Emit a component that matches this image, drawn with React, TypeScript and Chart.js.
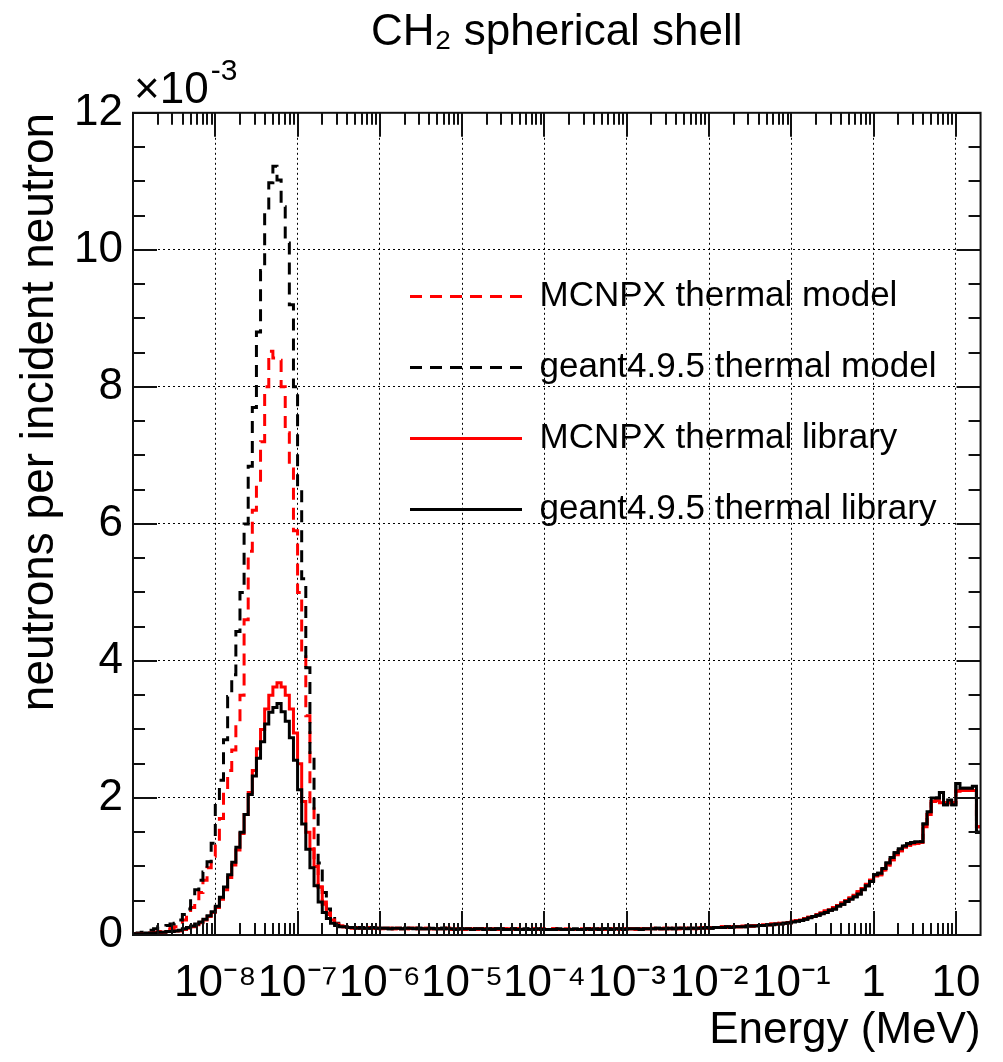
import React, { useEffect, useRef } from "react";
import { Chart, registerables } from "chart.js";

Chart.register(...registerables);

// ---- binning (log-uniform, 20 bins per decade, 1e-9 .. 10^1.3 MeV) ----
const BIN_LOG_MIN = -9;
const BIN_LOG_WIDTH = 0.05;
const X_MIN = 1e-9;
const X_MAX = Math.pow(10, 1.3);

// ---- axes ----
const X_TICKS = [1e-8, 1e-7, 1e-6, 1e-5, 1e-4, 1e-3, 1e-2, 1e-1, 1, 10];
const X_TICK_LABELS = ["10⁻⁸", "10⁻⁷", "10⁻⁶", "10⁻⁵", "10⁻⁴", "10⁻³", "10⁻²", "10⁻¹", "1", "10"];
const Y_TICKS = [0, 2, 4, 6, 8, 10, 12];
const Y_MIN = 0;
const Y_MAX = 12;

const TITLE = "CH₂ spherical shell";
const X_TITLE = "Energy (MeV)";
const Y_TITLE = "neutrons per incident neutron";
const Y_MULTIPLIER = ["×10", "-3"];

const SERIES_LABELS = [
  "MCNPX thermal model",
  "geant4.9.5 thermal model",
  "MCNPX thermal library",
  "geant4.9.5 thermal library",
];

// ---- values (units of 1e-3 neutrons per incident neutron) ----
// thermal region: bins 0..50
const mcnpxModelThermal = [
  0.01, 0.02, 0.02, 0.03, 0.03, 0.04, 0.05, 0.06, 0.08, 0.10,
  0.12, 0.16, 0.22, 0.30, 0.40, 0.50, 0.62, 0.80, 0.98, 1.15,
  1.35, 1.70, 2.10, 2.40, 2.70, 3.10, 3.50, 4.60, 5.60, 6.20,
  6.60, 7.20, 8.00, 8.52, 8.42, 8.39, 8.00, 7.33, 6.80, 5.90,
  5.00, 4.10, 3.20, 1.90, 1.10, 0.70, 0.45, 0.30, 0.20, 0.15,
  0.13,
];
const g4ModelThermal = [
  0.02, 0.03, 0.04, 0.05, 0.07, 0.09, 0.12, 0.12, 0.14, 0.16,
  0.17, 0.22, 0.30, 0.38, 0.55, 0.66, 0.80, 0.92, 1.07, 1.34,
  1.93, 2.26, 2.85, 3.48, 3.80, 4.43, 5.00, 6.00, 6.84, 7.70,
  8.80, 9.70, 10.54, 10.98, 11.22, 11.02, 10.63, 10.10, 9.20, 8.00,
  6.50, 5.20, 3.90, 2.60, 1.80, 1.05, 0.62, 0.38, 0.24, 0.17,
  0.14,
];
const mcnpxLibThermal = [
  0.01, 0.02, 0.02, 0.02, 0.03, 0.03, 0.03, 0.04, 0.05, 0.05,
  0.06, 0.06, 0.08, 0.10, 0.12, 0.15, 0.18, 0.22, 0.27, 0.33,
  0.40, 0.52, 0.66, 0.84, 1.02, 1.24, 1.48, 1.76, 2.08, 2.40,
  2.72, 3.00, 3.30, 3.50, 3.62, 3.68, 3.62, 3.50, 3.30, 2.95,
  2.50, 1.95, 1.50, 1.25, 1.00, 0.70, 0.48, 0.32, 0.22, 0.16,
  0.13,
];
const g4LibThermal = [
  0.02, 0.02, 0.02, 0.03, 0.03, 0.03, 0.04, 0.04, 0.05, 0.05,
  0.06, 0.07, 0.09, 0.11, 0.13, 0.16, 0.19, 0.23, 0.28, 0.34,
  0.42, 0.55, 0.70, 0.88, 1.06, 1.28, 1.50, 1.76, 2.05, 2.32,
  2.58, 2.82, 3.08, 3.25, 3.32, 3.38, 3.26, 3.12, 2.88, 2.55,
  2.12, 1.62, 1.25, 0.98, 0.72, 0.48, 0.33, 0.24, 0.17, 0.14,
  0.12,
];
// epithermal + fast region: bins 51..205
const mcnpxFast = [
  0.12, 0.11, 0.10, 0.11, 0.10, 0.10, 0.11, 0.10, 0.10, 0.09,
  0.10, 0.10, 0.09, 0.10, 0.09, 0.09, 0.10, 0.10, 0.09, 0.09,
  0.10, 0.09, 0.09, 0.09, 0.09, 0.10, 0.08, 0.09, 0.09, 0.08,
  0.09, 0.09, 0.08, 0.09, 0.09, 0.08, 0.09, 0.08, 0.08, 0.09,
  0.09, 0.08, 0.09, 0.08, 0.08, 0.08, 0.09, 0.08, 0.09, 0.08,
  0.08, 0.09, 0.08, 0.08, 0.09, 0.08, 0.08, 0.08, 0.09, 0.08,
  0.09, 0.08, 0.09, 0.08, 0.08, 0.09, 0.09, 0.08, 0.09, 0.09,
  0.09, 0.08, 0.09, 0.09, 0.09, 0.10, 0.09, 0.09, 0.10, 0.09,
  0.10, 0.09, 0.10, 0.10, 0.10, 0.09, 0.10, 0.11, 0.10, 0.11,
  0.11, 0.11, 0.12, 0.11, 0.12, 0.12, 0.12, 0.13, 0.13, 0.13,
  0.14, 0.14, 0.15, 0.15, 0.16, 0.16, 0.17, 0.17, 0.18, 0.20,
  0.21, 0.22, 0.24, 0.26, 0.27, 0.30, 0.32, 0.35, 0.37, 0.40,
  0.43, 0.47, 0.50, 0.54, 0.58, 0.63, 0.68, 0.74, 0.80, 0.86,
  0.88, 0.95, 1.02, 1.10, 1.17, 1.23, 1.28, 1.31, 1.33, 1.34,
  1.35, 1.58, 1.76, 1.95, 1.96, 1.93, 1.93, 1.93, 1.93, 2.10,
  2.11, 2.11, 2.11, 2.11, 1.58,
];
const g4Fast = [
  0.12, 0.11, 0.11, 0.10, 0.11, 0.10, 0.10, 0.11, 0.10, 0.10,
  0.10, 0.09, 0.10, 0.10, 0.09, 0.10, 0.10, 0.09, 0.10, 0.09,
  0.09, 0.10, 0.09, 0.09, 0.10, 0.09, 0.09, 0.08, 0.09, 0.09,
  0.09, 0.08, 0.09, 0.09, 0.08, 0.09, 0.08, 0.09, 0.09, 0.08,
  0.08, 0.09, 0.08, 0.08, 0.09, 0.08, 0.08, 0.09, 0.08, 0.08,
  0.08, 0.08, 0.09, 0.08, 0.08, 0.08, 0.09, 0.08, 0.08, 0.09,
  0.08, 0.09, 0.08, 0.09, 0.09, 0.08, 0.09, 0.09, 0.08, 0.09,
  0.09, 0.09, 0.08, 0.09, 0.09, 0.09, 0.10, 0.09, 0.09, 0.10,
  0.09, 0.10, 0.10, 0.09, 0.10, 0.10, 0.10, 0.10, 0.11, 0.10,
  0.11, 0.11, 0.11, 0.12, 0.11, 0.12, 0.12, 0.12, 0.13, 0.13,
  0.13, 0.14, 0.14, 0.15, 0.15, 0.16, 0.16, 0.17, 0.18, 0.19,
  0.20, 0.21, 0.23, 0.25, 0.27, 0.29, 0.31, 0.33, 0.36, 0.38,
  0.42, 0.45, 0.49, 0.52, 0.56, 0.60, 0.66, 0.72, 0.78, 0.88,
  0.90, 0.97, 1.05, 1.13, 1.20, 1.26, 1.30, 1.33, 1.35, 1.36,
  1.36, 1.62, 1.80, 2.00, 2.00, 2.08, 1.90, 1.97, 1.90, 2.21,
  2.14, 2.14, 2.14, 2.17, 1.50,
];

const SERIES_VALUES = [
  mcnpxModelThermal.concat(mcnpxFast),
  g4ModelThermal.concat(g4Fast),
  mcnpxLibThermal.concat(mcnpxFast),
  g4LibThermal.concat(g4Fast),
];
const SERIES_COLORS = ["#ff0000", "#000000", "#ff0000", "#000000"];
const SERIES_DASHED = [true, true, false, false];
const SERIES_ORDER = [3, 2, 1, 0];
const LINE_WIDTH = 3;
const DASH = [12, 8];

const FONT = "'Liberation Sans', Arial, Helvetica, sans-serif";

function histPoints(values: number[]) {
  const pts = values.map((v, k) => ({ x: Math.pow(10, BIN_LOG_MIN + BIN_LOG_WIDTH * k), y: v }));
  pts.push({ x: Math.pow(10, BIN_LOG_MIN + BIN_LOG_WIDTH * values.length), y: values[values.length - 1] });
  return pts;
}

const frameTicksPlugin = {
  id: "frameTicks",
  afterDatasetsDraw(chart: any) {
    const { ctx, chartArea: ca, scales } = chart;
    const xs = scales.x;
    const ys = scales.y;
    ctx.save();
    ctx.strokeStyle = "#111";
    ctx.lineWidth = 2;
    ctx.setLineDash([]);
    const seg = (x1: number, y1: number, x2: number, y2: number) => {
      ctx.beginPath();
      ctx.moveTo(x1, y1);
      ctx.lineTo(x2, y2);
      ctx.stroke();
    };
    for (let d = -9; d <= 1; d++) {
      for (let m = 1; m <= 9; m++) {
        const v = m * Math.pow(10, d);
        if (v < X_MIN * 0.999 || v > X_MAX) continue;
        const px = Math.round(xs.getPixelForValue(v));
        const len = m === 1 ? 24 : 12;
        seg(px, ca.bottom, px, ca.bottom - len);
        seg(px, ca.top, px, ca.top + len);
      }
    }
    for (let i = 0; i <= 24; i++) {
      const v = i * 0.5;
      const py = Math.round(ys.getPixelForValue(v));
      const len = i % 4 === 0 ? 24 : 12;
      seg(ca.left, py, ca.left + len, py);
      seg(ca.right, py, ca.right - len, py);
    }
    ctx.strokeRect(ca.left, ca.top, ca.right - ca.left, ca.bottom - ca.top);
    ctx.restore();
  },
  afterDraw(chart: any) {
    const { ctx, chartArea: ca } = chart;
    ctx.save();
    ctx.fillStyle = "#000";
    ctx.textBaseline = "alphabetic";
    ctx.textAlign = "left";
    ctx.font = `44px ${FONT}`;
    const x0 = ca.left + 1;
    ctx.fillText(Y_MULTIPLIER[0], x0, 103);
    const w = ctx.measureText(Y_MULTIPLIER[0]).width;
    ctx.font = `30px ${FONT}`;
    ctx.fillText(Y_MULTIPLIER[1], x0 + w + 2, 80);
    ctx.restore();
  },
};

const legendPlacer = {
  id: "legendPlacer",
  afterLayout(chart: any) {
    const lg = chart.legend;
    if (!lg) return;
    lg.left = 374;
    lg.top = 243;
    lg.width = 620;
    lg.height = 420;
    lg.right = lg.left + lg.width;
    lg.bottom = lg.top + lg.height;
  },
};

export default function App() {
  const canvasRef = useRef<HTMLCanvasElement | null>(null);

  useEffect(() => {
    if (!canvasRef.current) return;
    Chart.defaults.font.family = FONT;
    Chart.defaults.color = "#000";

    const datasets = SERIES_LABELS.map((label, i) => ({
      label,
      data: histPoints(SERIES_VALUES[i]),
      borderColor: SERIES_COLORS[i],
      backgroundColor: SERIES_COLORS[i],
      borderWidth: LINE_WIDTH,
      borderDash: SERIES_DASHED[i] ? DASH : [],
      pointRadius: 0,
      pointHoverRadius: 0,
      fill: false,
      tension: 0,
      stepped: "before" as const,
      order: SERIES_ORDER[i],
    }));

    const defaultLabels = (Chart.defaults.plugins.legend.labels as any).generateLabels;

    const chart = new Chart(canvasRef.current, {
      type: "line",
      data: { datasets },
      options: {
        animation: false,
        responsive: false,
        devicePixelRatio: 1,
        events: [],
        layout: { padding: { left: 0, right: 14, top: 0, bottom: 0 } },
        plugins: {
          title: {
            display: true,
            text: TITLE,
            fullSize: false,
            color: "#000",
            font: { size: 44, weight: "normal", family: FONT },
            padding: { top: 6, bottom: 54 },
          },
          legend: {
            display: true,
            position: "chartArea" as any,
            align: "start",
            labels: {
              usePointStyle: true,
              pointStyle: "line",
              pointStyleWidth: 112,
              padding: 36,
              color: "#000",
              font: { size: 35, family: FONT },
              sort: (a: any, b: any) => a.datasetIndex - b.datasetIndex,
              generateLabels: (ch: any) => {
                const items = defaultLabels(ch);
                items.forEach((it: any) => {
                  const ds = ch.data.datasets[it.datasetIndex];
                  it.lineDash = ds.borderDash;
                  it.lineWidth = ds.borderWidth;
                  it.strokeStyle = ds.borderColor;
                  it.pointStyle = "line";
                });
                return items;
              },
            },
          },
          tooltip: { enabled: false },
        },
        scales: {
          x: {
            type: "logarithmic",
            min: X_MIN,
            max: X_MAX,
            afterBuildTicks: (scale: any) => {
              scale.ticks = X_TICKS.map((v) => ({ value: v }));
            },
            afterFit: (scale: any) => {
              scale.height = 127;
            },
            ticks: {
              autoSkip: false,
              maxRotation: 0,
              minRotation: 0,
              padding: 22,
              color: "#000",
              font: { size: 44, family: FONT },
              callback: (_v: any, idx: number) => X_TICK_LABELS[idx],
            },
            grid: { display: true, drawTicks: false, color: "#000", lineWidth: 1 },
            border: { display: false, dash: [2, 3] },
            title: {
              display: true,
              text: X_TITLE,
              align: "end",
              color: "#000",
              font: { size: 44, family: FONT },
              padding: { top: 0, bottom: 5 },
            },
          },
          y: {
            type: "linear",
            min: Y_MIN,
            max: Y_MAX,
            afterBuildTicks: (scale: any) => {
              scale.ticks = Y_TICKS.map((v) => ({ value: v }));
            },
            afterFit: (scale: any) => {
              scale.width = 133;
            },
            ticks: {
              padding: 10,
              color: "#000",
              font: { size: 44, family: FONT },
              callback: (v: any) => String(v),
            },
            grid: { display: true, drawTicks: false, color: "#000", lineWidth: 1 },
            border: { display: false, dash: [2, 3] },
            title: {
              display: true,
              text: Y_TITLE,
              align: "end",
              color: "#000",
              font: { size: 46, family: FONT },
              padding: { top: 13, bottom: 0 },
            },
          },
        },
      },
      plugins: [frameTicksPlugin, legendPlacer],
    } as any);

    return () => chart.destroy();
  }, []);

  return (
    <div style={{ position: "fixed", left: 0, top: 0, width: 1003, height: 1062, background: "#fff" }}>
      <canvas ref={canvasRef} width={1003} height={1062} style={{ display: "block" }} />
    </div>
  );
}
